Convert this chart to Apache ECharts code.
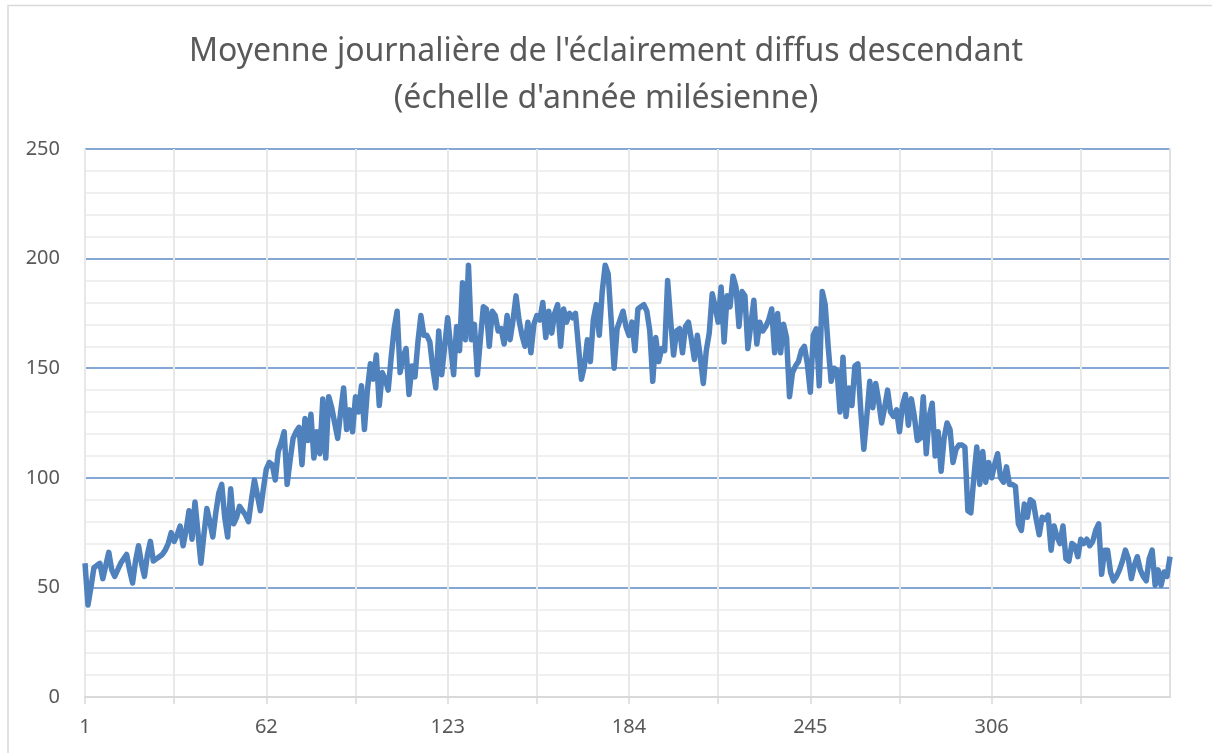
<!DOCTYPE html>
<html>
<head>
<meta charset="utf-8">
<script src="https://cdn.jsdelivr.net/npm/echarts@6/dist/echarts.min.js"></script>
<style>
  html, body { margin: 0; padding: 0; background: #fff; }
  #main { width: 1212px; height: 753px; }
</style>
</head>
<body>
<div id="main"></div>
<script>
// jours de l'année milésienne (1..366)
var days = [];
for (var d = 1; d <= 366; d++) days.push(String(d));

// moyenne journalière de l'éclairement diffus descendant
var diffus = [
  61, 42, 50, 59, 60, 61, 54, 60, 66, 58,
  55, 58, 61, 63, 65, 58, 52, 62, 69, 61,
  55, 65, 71, 62, 63, 64, 65, 67, 70, 75,
  71, 74, 78, 69, 76, 85, 72, 89, 75, 61,
  74, 86, 80, 73, 84, 93, 97, 82, 73, 95,
  79, 82, 87, 85, 83, 80, 90, 99, 92, 85,
  95, 104, 107, 106, 99, 112, 116, 121, 97, 108,
  118, 121, 123, 106, 127, 117, 129, 109, 121, 111,
  136, 109, 137, 132, 125, 118, 130, 141, 122, 131,
  121, 137, 130, 142, 122, 140, 152, 145, 156, 133,
  148, 145, 140, 155, 168, 176, 148, 155, 159, 138,
  151, 146, 162, 174, 165, 165, 162, 150, 141, 167,
  147, 160, 173, 160, 147, 169, 158, 189, 163, 197,
  163, 170, 147, 163, 178, 177, 160, 176, 174, 167,
  168, 161, 174, 163, 172, 183, 172, 165, 160, 171,
  157, 170, 174, 172, 180, 164, 176, 166, 175, 179,
  160, 177, 171, 175, 173, 175, 160, 145, 151, 163,
  153, 172, 179, 165, 185, 197, 193, 172, 150, 168,
  172, 176, 169, 165, 171, 158, 177, 178, 179, 176,
  167, 144, 164, 153, 159, 158, 190, 172, 156, 167,
  168, 157, 169, 171, 163, 154, 165, 155, 143, 158,
  166, 184, 178, 171, 187, 162, 183, 178, 192, 187,
  169, 185, 183, 159, 170, 181, 161, 171, 167, 169,
  172, 177, 157, 175, 157, 170, 164, 137, 148, 151,
  153, 158, 160, 152, 139, 165, 168, 142, 185, 179,
  160, 144, 150, 149, 130, 155, 128, 141, 133, 151,
  152, 130, 113, 128, 144, 132, 143, 135, 125, 132,
  140, 130, 128, 131, 121, 133, 138, 124, 136, 128,
  117, 118, 137, 111, 128, 134, 110, 121, 103, 118,
  125, 122, 107, 113, 115, 115, 114, 85, 84, 100,
  114, 97, 112, 98, 107, 100, 106, 111, 100, 98,
  105, 97, 97, 96, 79, 76, 88, 82, 90, 89,
  81, 74, 82, 81, 83, 67, 78, 73, 70, 78,
  63, 62, 70, 69, 64, 72, 70, 72, 69, 71,
  76, 79, 56, 67, 67, 57, 53, 55, 58, 62,
  67, 63, 54, 60, 64, 58, 55, 53, 63, 67,
  51, 58, 51, 57, 55, 64
];

// graduations
var yTicks = [0, 50, 100, 150, 200, 250];
var labelStep = 61;

var myChart = echarts.init(document.getElementById('main'));

var gridEvery = function (index) {
  return index % labelStep === 0 || index % labelStep === 30;
};
var labelEvery = function (index) {
  return index % labelStep === 0;
};

var option = {
  animation: false,
  textStyle: { fontFamily: 'Noto Sans' },
  title: {
    text: "Moyenne journalière de l'éclairement diffus descendant\n(échelle d'année milésienne)",
    left: 'center',
    top: 28,
    padding: 0,
    textStyle: {
      fontFamily: 'Noto Sans',
      fontSize: 32,
      fontWeight: 'normal',
      color: '#595959',
      lineHeight: 47
    }
  },
  graphic: [{
    type: 'rect',
    shape: { x: 8, y: 5.5, width: 1400, height: 900 },
    style: { fill: 'none', stroke: '#D9D9D9', lineWidth: 1.5 },
    silent: true
  }],
  grid: { left: 85, right: 42, top: 149, bottom: 56 },
  xAxis: {
    type: 'category',
    data: days,
    boundaryGap: false,
    axisLine: { lineStyle: { color: '#D9D9D9', width: 2 } },
    axisTick: { show: true, interval: gridEvery, length: 7, lineStyle: { color: '#D9D9D9', width: 1.5 } },
    axisLabel: {
      interval: labelEvery,
      hideOverlap: false,
      margin: 20,
      fontSize: 20,
      color: '#595959'
    },
    splitLine: { show: true, interval: gridEvery, lineStyle: { color: '#E8E8E8', width: 2 } }
  },
  yAxis: [{
    type: 'value',
    min: yTicks[0],
    max: yTicks[yTicks.length - 1],
    interval: 50,
    axisLine: { show: false },
    axisTick: { show: false },
    axisLabel: { margin: 25, fontSize: 20, color: '#595959' },
    splitLine: {
      show: true,
      lineStyle: { color: ['#D9D9D9', '#5B8AC6', '#5B8AC6', '#5B8AC6', '#5B8AC6', '#5B8AC6'], width: 1.5 }
    },
    minorTick: { show: false, splitNumber: 5 },
    minorSplitLine: { show: true, lineStyle: { color: '#F0F0F0', width: 2 } }
  }, {
    type: 'value',
    position: 'right',
    min: yTicks[0],
    max: yTicks[yTicks.length - 1],
    interval: 50,
    axisLine: { show: true, lineStyle: { color: '#E0E0E0', width: 2 } },
    axisTick: { show: false },
    axisLabel: { show: false },
    splitLine: { show: false }
  }],
  series: [{
    name: 'Éclairement diffus',
    type: 'line',
    yAxisIndex: 0,
    data: diffus,
    showSymbol: false,
    symbol: 'none',
    lineStyle: { color: '#4F81BD', width: 5.5, join: 'round' },
    z: 5
  }]
};

myChart.setOption(option);
</script>
</body>
</html>
